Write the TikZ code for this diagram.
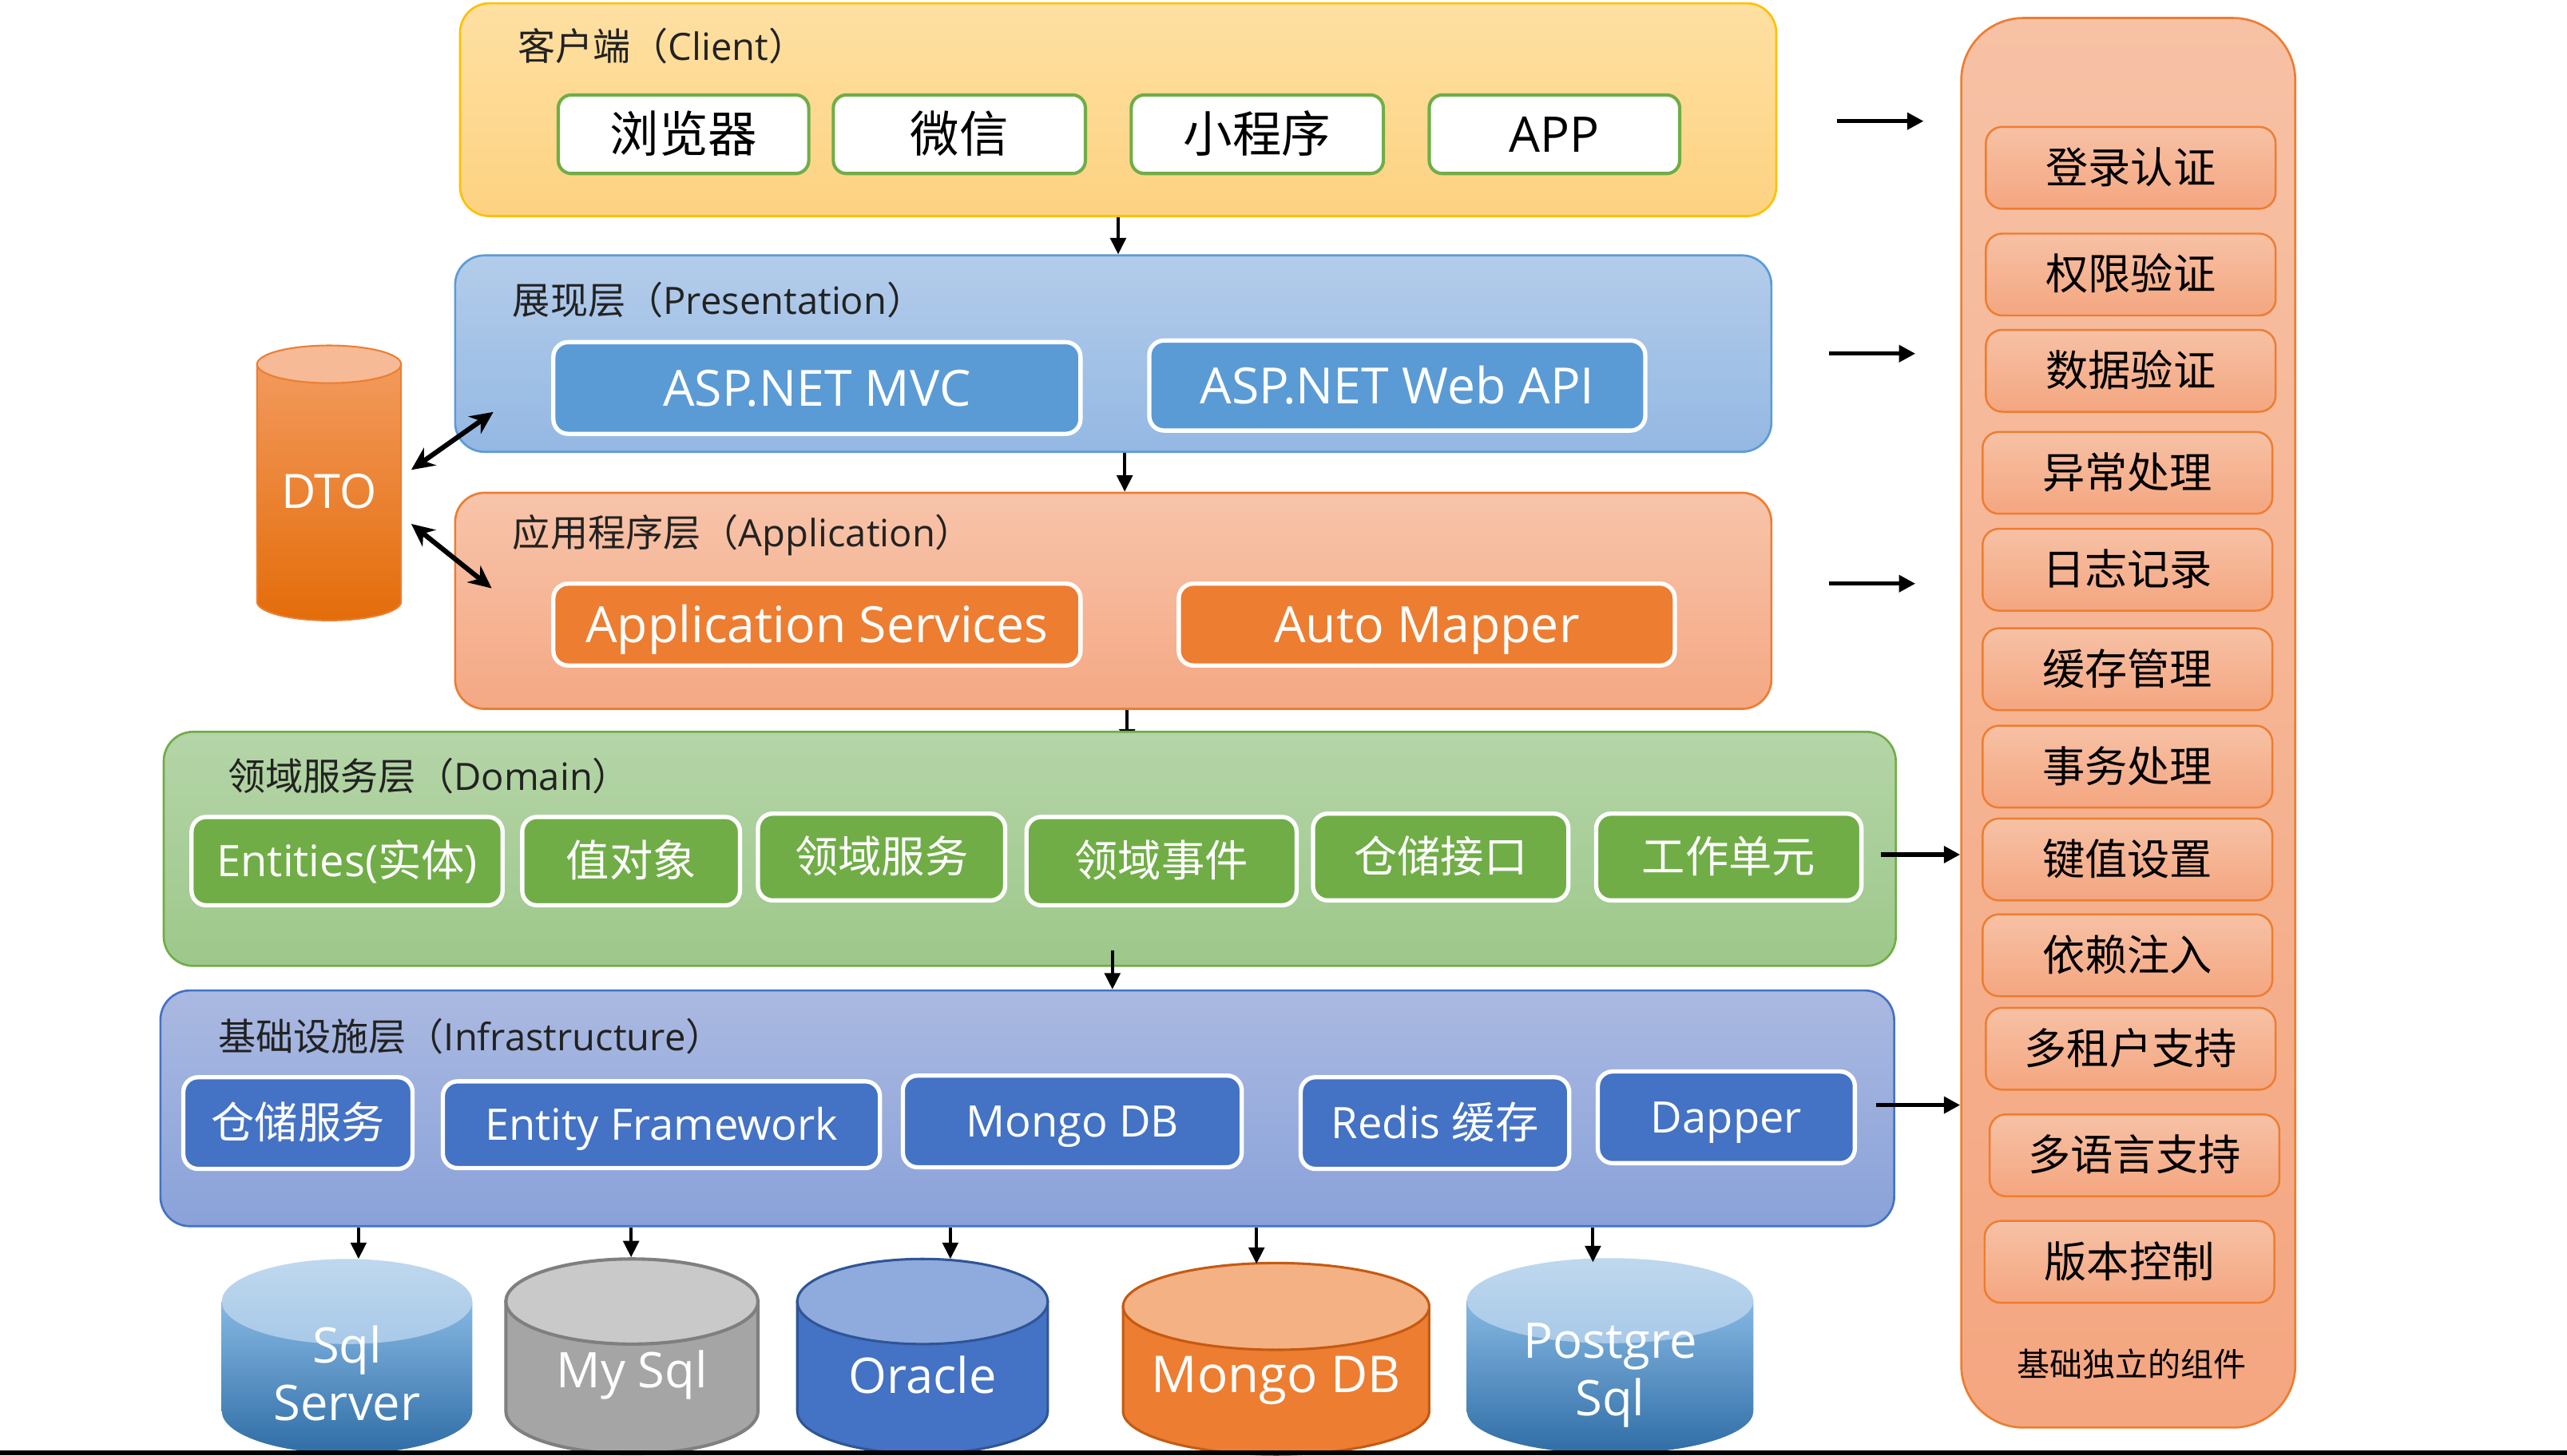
\documentclass[tikz,border=0pt]{standalone}
\usepackage{fontspec}
\setmainfont{Open Sans}
\newfontfamily\cjk{Noto Sans CJK SC}
\usetikzlibrary{arrows.meta}
\pgfdeclarelayer{bg}
\pgfsetlayers{bg,main}
\newcommand\zh[1]{{\cjk #1}}
\newcommand\fsz[2]{\fontsize{#1}{#2}\selectfont}
% cylinder: cx, top-ellipse centre y, bottom centre y, rx, ry, body style, end style
\newcommand\dbcyl[7]{%
  \path[#6] (#1-#4,#2) -- (#1-#4,#3)
    .. controls (#1-#4,#3+0.5523*#5) and (#1-0.5523*#4,#3+#5) .. (#1,#3+#5)
    .. controls (#1+0.5523*#4,#3+#5) and (#1+#4,#3+0.5523*#5) .. (#1+#4,#3)
    -- (#1+#4,#2) -- cycle;
  \path[#7] (#1,#2) ellipse [x radius=#4, y radius=#5];
}
\definecolor{cliT}{HTML}{FEE0A2}
\definecolor{cliB}{HTML}{FDD281}
\definecolor{cliD}{HTML}{FFC000}
\definecolor{preT}{HTML}{B3CCEA}
\definecolor{preB}{HTML}{94B8E3}
\definecolor{preD}{HTML}{5B9BD5}
\definecolor{appT}{HTML}{F7C4AA}
\definecolor{appB}{HTML}{F5A884}
\definecolor{domT}{HTML}{B5D5A8}
\definecolor{domB}{HTML}{9DC88A}
\definecolor{infT}{HTML}{AAB9E1}
\definecolor{infB}{HTML}{8AA2D9}
\definecolor{panT}{HTML}{F7C1A5}
\definecolor{panB}{HTML}{F4A680}
\definecolor{blu}{HTML}{5B9BD5}
\definecolor{org}{HTML}{ED7D31}
\definecolor{grn}{HTML}{70AD47}
\definecolor{dbl}{HTML}{4472C4}
\definecolor{txt}{HTML}{222222}
\definecolor{dtoT}{HTML}{F29A5C}
\definecolor{dtoB}{HTML}{E46C0A}
\definecolor{dtoE}{HTML}{F6BA96}
\definecolor{sqlT}{HTML}{86B8E2}
\definecolor{sqlB}{HTML}{2F6DA6}
\definecolor{sqlET}{HTML}{BFD8EE}
\definecolor{sqlEB}{HTML}{A8C9E8}
\definecolor{gry}{HTML}{A5A5A5}
\definecolor{gryE}{HTML}{C9C9C9}
\definecolor{gryD}{HTML}{7F7F7F}
\definecolor{orcD}{HTML}{2F5597}
\definecolor{orcE}{HTML}{8FAADC}
\definecolor{mgD}{HTML}{C55A11}
\definecolor{mgE}{HTML}{F4B183}
\begin{document}
\begin{tikzpicture}[x=1pt,y=-1pt,
  layer/.style={draw, line width=1.3pt, rounded corners=18pt, inner sep=0pt},
  lbl/.style={anchor=west, inner sep=0pt, text=txt, font=\fsz{23}{27}},
  citem/.style={text height=21.6pt, text depth=0pt, draw=grn, line width=2pt, fill=white, rounded corners=8pt, inner sep=0pt, text=black, font=\cjk\fsz{30}{36}},
  wbox/.style={draw=white, line width=2.6pt, rounded corners=9pt, inner sep=0pt, text=white},
  pitem/.style={wbox, fill=blu, font=\fsz{30.5}{36}, text height=22pt, text depth=0pt},
  aitem/.style={wbox, fill=org, font=\fsz{30.5}{36}, text height=22pt, text depth=0pt},
  ditem/.style={wbox, fill=grn, font=\fsz{26.5}{32}, text height=19pt, text depth=0pt},
  iitem/.style={wbox, fill=dbl, font=\fsz{26.5}{32}, text height=19pt, text depth=0pt},
  ritem/.style={text height=18.7pt, text depth=0pt, draw=org, line width=1.2pt, top color=panT, bottom color=panB, rounded corners=10pt, inner sep=0pt, minimum width=177pt, minimum height=50pt, text=black, font=\cjk\fsz{26}{30}},
  dbtxt/.style={text=white, align=center, inner sep=0pt, font=\fsz{30}{35}},
  varr/.style={line width=2pt, -{Triangle[length=10pt,width=9.5pt]}},
  sarr/.style={line width=2.5pt, -{Triangle[length=10pt,width=10pt]}},
  darr/.style={line width=3pt, {Stealth[length=14pt,width=13pt]}-{Stealth[length=14pt,width=13pt]}},
]
\useasboundingbox (0,0) rectangle (1568,889);
\begin{pgfonlayer}{bg}
  \fill[white] (0,0) rectangle (1568,889);
\end{pgfonlayer}

% ---------- layers ----------
\node[layer, draw=cliD, top color=cliT, bottom color=cliB, minimum width=804pt, minimum height=130pt] (client) at (683,67) {};
\node[layer, draw=preD, top color=preT, bottom color=preB, minimum width=804pt, minimum height=120pt] (pres) at (680,216) {};
\node[layer, draw=org, top color=appT, bottom color=appB, minimum width=804pt, minimum height=132pt] (app) at (680,367) {};
\node[layer, draw=grn, top color=domT, bottom color=domB, minimum width=1058pt, minimum height=143pt] (dom) at (629,518.5) {};
\node[layer, draw=dbl, top color=infT, bottom color=infB, minimum width=1059pt, minimum height=144pt] (inf) at (627.5,677) {};
\node[layer, draw=org, top color=panT, bottom color=panB, rounded corners=38pt, minimum width=204pt, minimum height=861pt] (panel) at (1300,441.5) {};

% ---------- layer labels ----------
\node[lbl] (cliL) at (316,28) {\zh{客户端（}Client\zh{）}};
\node[lbl] (preL) at (313,183) {\zh{展现层（}Presentation\zh{）}};
\node[lbl] (appL) at (313,327) {\zh{应用程序层（}Application\zh{）}};
\node[lbl] (domL) at (139,474) {\zh{领域服务层（}Domain\zh{）}};
\node[lbl] (infL) at (133,633) {\zh{基础设施层（}Infrastructure\zh{）}};

% ---------- client items ----------
\node[citem, minimum width=153pt, minimum height=48pt] (browser) at (417.5,82) {浏览器};
\node[citem, minimum width=154pt, minimum height=48pt] (wechat) at (586,82) {微信};
\node[citem, minimum width=154pt, minimum height=48pt] (mini) at (768,82) {小程序};
\node[citem, minimum width=153pt, minimum height=48pt, font=\fsz{30}{36}] (appc) at (949.5,82) {APP};

% ---------- presentation / application items ----------
\node[pitem, minimum width=322pt, minimum height=56pt] (mvc) at (499,237) {ASP.NET MVC};
\node[pitem, minimum width=303pt, minimum height=55pt] (webapi) at (853.5,235.5) {ASP.NET Web API};
\node[aitem, minimum width=322pt, minimum height=50pt] (appsvc) at (499,381.5) {Application Services};
\node[aitem, minimum width=303pt, minimum height=50pt] (mapper) at (871.5,381.5) {Auto Mapper};

% ---------- domain items ----------
\node[ditem, minimum width=190pt, minimum height=54pt] (ent) at (212,526) {Entities(\zh{实体})};
\node[ditem, minimum width=133pt, minimum height=54pt] (vo) at (385.5,526) {\zh{值对象}};
\node[ditem, minimum width=151pt, minimum height=53pt] (dsvc) at (538.5,523.5) {\zh{领域服务}};
\node[ditem, minimum width=165pt, minimum height=54pt] (devt) at (709.5,526) {\zh{领域事件}};
\node[ditem, minimum width=156pt, minimum height=53pt] (repi) at (880,523.5) {\zh{仓储接口}};
\node[ditem, minimum width=162pt, minimum height=53pt] (uow) at (1056,523.5) {\zh{工作单元}};

% ---------- infrastructure items ----------
\node[iitem, minimum width=140pt, minimum height=56pt] (repo) at (182,686) {\zh{仓储服务}};
\node[iitem, minimum width=267pt, minimum height=53pt] (ef) at (404,687) {Entity Framework};
\node[iitem, minimum width=207pt, minimum height=56pt] (mongo) at (655,685) {Mongo DB};
\node[iitem, minimum width=164pt, minimum height=56pt] (redis) at (876.5,686) {Redis \zh{缓存}};
\node[iitem, minimum width=157pt, minimum height=56pt] (dapper) at (1054.5,682.5) {Dapper};

% ---------- right panel items ----------
\node[ritem] (r1) at (1301.5,102.5) {登录认证};
\node[ritem] (r2) at (1301.5,167.7) {权限验证};
\node[ritem] (r3) at (1301.5,226.5) {数据验证};
\node[ritem] (r4) at (1299.5,288.8) {异常处理};
\node[ritem] (r5) at (1299.5,348) {日志记录};
\node[ritem] (r6) at (1299.5,408.8) {缓存管理};
\node[ritem] (r7) at (1299.5,468.3) {事务处理};
\node[ritem] (r8) at (1299.5,525) {键值设置};
\node[ritem] (r9) at (1299.5,583.5) {依赖注入};
\node[ritem] (r10) at (1301.5,640.6) {多租户支持};
\node[ritem] (r11) at (1303.8,705.7) {多语言支持};
\node[ritem] (r12) at (1300.7,770.8) {版本控制};
\node[inner sep=0pt, text=black, font=\cjk\fsz{20}{24}] (panL) at (1302,833) {基础独立的组件};

% ---------- DTO ----------
\dbcyl{201}{222.5}{367.5}{44}{11.5}{draw=org, line width=1pt, top color=dtoT, bottom color=dtoB}{draw=org, line width=1pt, fill=dtoE}
\node[dbtxt, font=\fsz{29}{34}, minimum width=88pt] (dto) at (201,300) {DTO};
\draw[darr] ([xshift=6pt,yshift=13pt]dto.east) -- ([xshift=24pt,yshift=25pt]pres.south west);
\draw[darr] ([xshift=6pt,yshift=-20pt]dto.east) -- ([xshift=23pt,yshift=-59pt]app.north west);

% ---------- databases ----------
\dbcyl{212}{795}{862}{76.5}{26}{draw=none, top color=sqlT, bottom color=sqlB}{draw=none, top color=sqlET, bottom color=sqlEB}
\dbcyl{386}{795}{862}{77}{26}{draw=gryD, line width=2pt, fill=gry}{draw=gryD, line width=2pt, fill=gryE}
\dbcyl{563.5}{795}{862}{76.5}{26}{draw=orcD, line width=1.5pt, fill=dbl}{draw=orcD, line width=1.5pt, fill=orcE}
\dbcyl{779.5}{798}{862}{93.5}{26.5}{draw=mgD, line width=1.5pt, fill=org}{draw=mgD, line width=1.5pt, fill=mgE}
\dbcyl{983.5}{794.5}{862}{87.5}{26}{draw=none, top color=sqlT, bottom color=sqlB}{draw=none, top color=sqlET, bottom color=sqlEB}
\node[dbtxt] (sqls) at (212,839) {Sql\\Server};
\node[dbtxt] (mysql) at (386,840) {My Sql};
\node[dbtxt] (oracle) at (563.5,840) {Oracle};
\node[dbtxt, font=\fsz{31}{36}] (mongodb) at (779.5,843) {Mongo DB};
\node[dbtxt] (pgsql) at (983.5,840) {Postgre\\Sql};
\coordinate (sqlsT) at (219,769);
\coordinate (mysqlT) at (385.5,768);
\coordinate (oracleT) at (580.5,769);
\coordinate (mongoT) at (767.5,772);
\coordinate (pgT) at (973,771);

% ---------- vertical arrows ----------
\coordinate (xa) at (687,0);
\coordinate (xb) at (688.5,0);
\coordinate (xc) at (679.5,0);
\draw[varr] (client.south) -- (client.south |- pres.north);
\draw[varr] (xa |- pres.south) -- (xa |- app.north);
\begin{pgfonlayer}{bg}
  \draw[varr, shorten >=-9pt] (xb |- app.south) -- (xb |- dom.north);
\end{pgfonlayer}
\draw[varr, shorten <=-10pt] (xc |- dom.south) -- (xc |- inf.north);
\draw[varr] (inf.south -| sqlsT) -- (sqlsT);
\draw[varr] (inf.south -| mysqlT) -- (mysqlT);
\draw[varr] (inf.south -| oracleT) -- (oracleT);
\draw[varr] (inf.south -| mongoT) -- (mongoT);
\draw[varr] (inf.south -| pgT) -- (pgT);

% ---------- side arrows ----------
\coordinate (s1a) at (1122,74);
\coordinate (s1b) at (1175,74);
\coordinate (s2a) at (1117,216);
\coordinate (s2b) at (1170,216);
\coordinate (s3a) at (1117,356.5);
\coordinate (s3b) at (1170,356.5);
\coordinate (s4a) at (1149,522);
\coordinate (s5a) at (1146,675);
\draw[sarr] (s1a) -- (s1b);
\draw[sarr] (s2a) -- (s2b);
\draw[sarr] (s3a) -- (s3b);
\draw[sarr] (s4a) -- (s4a -| panel.west);
\draw[sarr] (s5a) -- (s5a -| panel.west);

% ---------- bottom bar ----------
\fill[black] (0,886) rectangle (1568,889);
\end{tikzpicture}
\end{document}
